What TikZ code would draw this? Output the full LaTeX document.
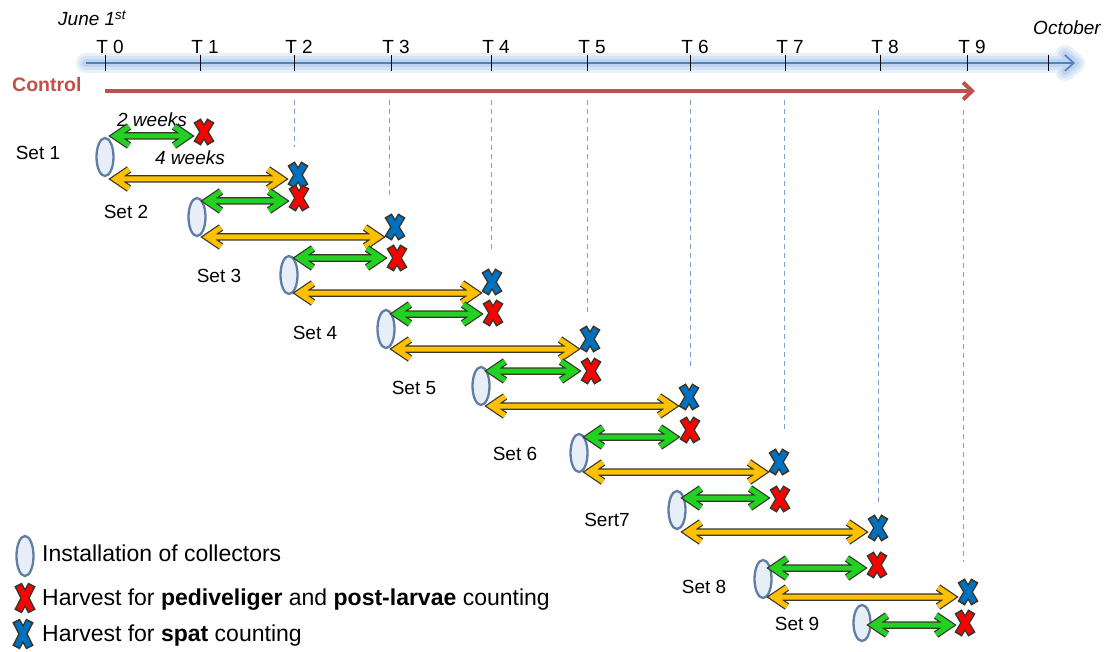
\documentclass[tikz,border=0pt]{standalone}
\usepackage{fontspec}
\setmainfont{Liberation Sans}
\usetikzlibrary{arrows.meta,shapes.geometric}
\definecolor{axisblue}{RGB}{79,129,189}
\definecolor{dashblue}{RGB}{125,160,210}
\definecolor{glowblue}{RGB}{190,212,240}
\definecolor{ctrlred}{RGB}{192,80,77}
\definecolor{grn}{RGB}{34,210,34}
\definecolor{ylw}{RGB}{255,192,0}
\definecolor{xred}{RGB}{255,0,0}
\definecolor{xblue}{RGB}{0,112,192}
\definecolor{collfill}{RGB}{232,238,247}
\definecolor{colldraw}{RGB}{95,125,165}
\definecolor{outl}{RGB}{55,55,45}
\newcommand\fsz[1]{\fontsize{#1}{#1}\selectfont}
\tikzset{
  collector/.style={ellipse, draw=colldraw, fill=collfill, line width=2.3pt,
    minimum width=17pt, minimum height=38pt, inner sep=0pt},
  arrout/.style={draw=outl, line width=7.5pt, line join=miter},
  arrin/.style={line width=5pt, line join=miter},
  xout/.style={draw=outl, line width=8.5pt},
  xin/.style={line width=5.5pt},
  dashline/.style={draw=dashblue, line width=1pt, dash pattern=on 5pt off 4pt},
  lbl/.style={font=\fsz{19}, inner sep=0pt},
  tlbl/.style={font=\fsz{19}\itshape, inner sep=0pt},
  legtxt/.style={font=\fsz{23}, inner sep=0pt, anchor=base west},
}
% double-headed block arrow with outline: #1 colour, #2 left end name, #3 right end name
\newcommand\dblarr[3]{%
  \draw[arrout] ([shift={(14,-9.5)}]#2) -- (#2) -- ([shift={(14,9.5)}]#2)
    (#2) -- (#3) ([shift={(-14,-9.5)}]#3) -- (#3) -- ([shift={(-14,9.5)}]#3);
  \draw[arrin,#1] ([shift={(14,-9.5)}]#2) -- (#2) -- ([shift={(14,9.5)}]#2)
    (#2) -- (#3) ([shift={(-14,-9.5)}]#3) -- (#3) -- ([shift={(-14,9.5)}]#3);}
\newcommand\xmk[4]{%
  \coordinate (#1) at (#2,#3);
  \begin{scope}[shift={(#1)}]
    \draw[xout] (-6.9,-11.5) -- (6.9,11.5) (6.9,-11.5) -- (-6.9,11.5);
    \draw[xin,#4] (-6,-10) -- (6,10) (6,-10) -- (-6,10);
  \end{scope}}
\newcommand\xmkL[4]{%
  \coordinate (#1) at (#2,#3);
  \begin{scope}[shift={(#1)}]
    \draw[xout] (-6.9,-13.5) -- (6.9,13.5) (6.9,-13.5) -- (-6.9,13.5);
    \draw[xin,#4] (-6,-12) -- (6,12) (6,-12) -- (-6,12);
  \end{scope}}
\begin{document}
\begin{tikzpicture}[x=1pt,y=-1pt]
\useasboundingbox (0,0) rectangle (1110,652);

% header texts
\node[tlbl, anchor=base west] (june) at (58,26) {June 1\textsuperscript{st}};
\node[tlbl, anchor=base east] (oct) at (1101,35) {October};
\node[font=\fsz{19.5}\bfseries, text=ctrlred, inner sep=0pt, anchor=base west] (ctrl) at (12,92) {Control};

% timeline glow and axis
\coordinate (ax0) at (86,63);
\coordinate (ax1) at (1075,63);
\foreach \w/\c in {20/glowblue!35, 14/glowblue!65, 8/glowblue}{
  \draw[line width=\w pt, \c, line cap=round] (ax0) -- (1066,63);
  \draw[line width=\w pt, \c, line cap=round, line join=round] (1065,55) -- (ax1) -- (1065,71);
}
\draw[axisblue, line width=1.6pt, -{Straight Barb[length=9pt,width=16pt]}] (ax0) -- (ax1);

% ticks and T labels
\foreach \x/\n in {105/0,200/1,294/2,391/3,491/4,587/5,690/6,785/7,880/8,967/9}{
  \draw[line width=1pt] (\x,55) -- (\x,71);
  \node[lbl] (t\n) at (\x+5,47) {T \n};
}
\draw[line width=1pt] (1048,55) -- (1048,71);

% control arrow
\coordinate (c0) at (105,91);
\coordinate (c1) at (975,91);
\draw[ctrlred, line width=4pt, -{Straight Barb[length=9pt,width=17pt]}] (c0) -- (c1);

% dashed guide lines
\foreach \x/\a/\b in {294/100/147, 389/100/195, 491/100/250, 587/100/312,
                      690/100/368, 784/100/430, 878/110/503, 963/110/562}{
  \draw[dashline] (\x,\a) -- (\x,\b);
}

% duration labels
\node[tlbl] (w2) at (152,120) {2 weeks};
\node[tlbl] (w4) at (190,158) {4 weeks};

% sets
\foreach \k/\cx/\cy/\gy/\yy/\rx/\ry/\bx/\by/\lx/\ly/\lab in {
  1/105/157/136/179/204/132/298/175/38/153/Set 1,
  2/197/217/201/237/299/198/395/227/126/212/Set 2,
  3/289/275/258/293/397/258/492/282/219/276/Set 3,
  4/386/329/314/349/493/313/590/339/315/333/Set 4,
  5/481/386/371/406/591/371/689/397/414/388/Set 5,
  6/579/453/437/472/690/430/779/462/515/454/Set 6,
  7/677/510/498/532/780/499/878/528/607/520/Sert7,
  8/763/579/568/597/877/565/968/592/704/587/Set 8}{
  \node[collector] (e\k) at (\cx,\cy) {};
  \node[lbl] (l\k) at (\lx,\ly) {\lab};
  \coordinate (gs\k) at (\cx+10,\gy);
  \coordinate (ge\k) at (\rx-16,\gy);
  \coordinate (ys\k) at (\cx+10,\yy);
  \coordinate (ye\k) at (\bx-16,\yy);
  \dblarr{grn}{gs\k}{ge\k}
  \dblarr{ylw}{ys\k}{ye\k}
  \xmk{r\k}{\rx}{\ry}{xred}
  \xmk{b\k}{\bx}{\by}{xblue}
}
% set 9
\node[collector, minimum height=36pt] (e9) at (862,623) {};
\node[lbl] (l9) at (797,624) {Set 9};
\coordinate (gs9) at (873,625);
\coordinate (ge9) at (950,625);
\dblarr{grn}{gs9}{ge9}
\xmk{r9}{965}{623}{xred}

% legend
\node[collector, minimum height=40pt] (leg1) at (25,556) {};
\node[legtxt] (legt1) at (42,561) {Installation of collectors};
\xmkL{leg2}{25}{598}{xred}
\node[legtxt] (legt2) at (42,605) {Harvest for \textbf{pediveliger} and \textbf{post-larvae} counting};
\xmkL{leg3}{23}{634}{xblue}
\node[legtxt] (legt3) at (42,641) {Harvest for \textbf{spat} counting};
\end{tikzpicture}
\end{document}
